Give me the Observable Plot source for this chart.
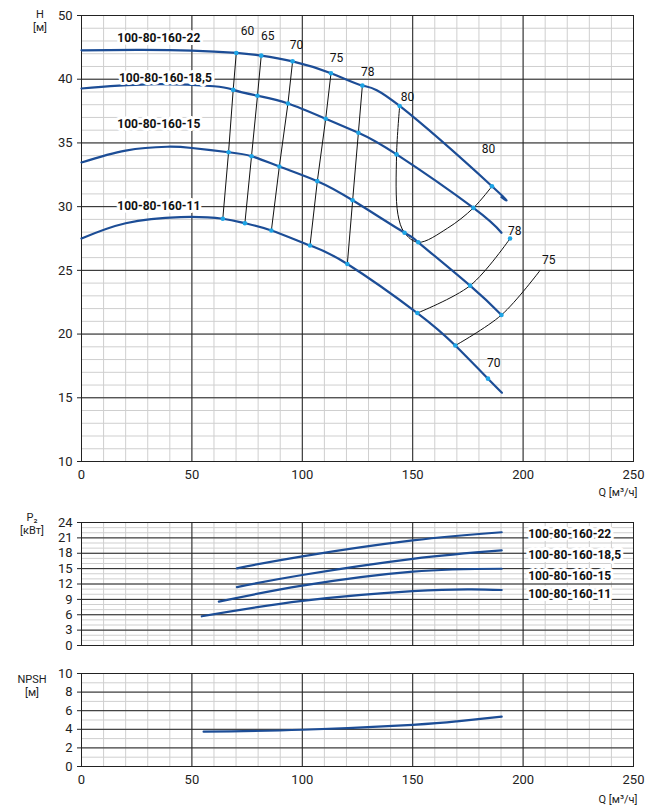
<!DOCTYPE html>
<html><head><meta charset="utf-8">
<script src="https://cdn.jsdelivr.net/npm/d3@7"></script>
<script src="https://cdn.jsdelivr.net/npm/@observablehq/plot@0.6"></script>
<style>
body{margin:0;background:#fff;font-family:Roboto,sans-serif;}
#wrap{position:relative;width:659px;height:811px;}
#wrap > svg, #wrap > figure{position:absolute;left:0;margin:0;}
.lab{position:absolute;font-size:11px;color:#222;text-align:center;line-height:13px;}
</style></head><body><div id="wrap"></div>
<script>
// ---- H(Q) curves ----
const models = ["100-80-160-22","100-80-160-18,5","100-80-160-15","100-80-160-11"];
const q22 = [0,25,50,70.1,81.4,95.6,113,127.2,144.1,185.9,190.2];
const h22 = [42.27,42.3,42.25,42.06,41.85,41.4,40.47,39.5,37.9,31.6,30.75];
const q185 = [0,30,60,68.7,79.7,93.5,110.6,125.4,142.7,177.5,190.2];
const h185 = [39.27,39.6,39.45,39.16,38.7,38.1,36.9,35.8,34.1,29.9,27.95];
const q15 = [0,20,38.8,50,66.6,77,89.6,106.8,122.8,146.3,152.5,176,190.2];
const h15 = [33.47,34.4,34.7,34.6,34.27,33.96,33.15,32.0,30.5,27.95,27.2,23.8,21.5];
const q11 = [0,20,44.9,64,74,86,103.5,120.4,152.1,169.3,184.1,190.4];
const h11 = [27.5,28.7,29.18,29.05,28.7,28.13,26.95,25.5,21.65,19.1,16.5,15.4];
// efficiency iso-lines (%), points on curves 22, 18.5, 15, 11
const effNames = [60,65,70,75,78];
const effQ = [[70.1,68.7,66.6,64],[81.4,79.7,77,74],[95.6,93.5,89.6,86],[113,110.6,106.8,103.5],[127.2,125.4,122.8,120.4]];
const effH = [[42.06,39.16,34.27,29.05],[41.85,38.7,33.96,28.7],[41.4,38.1,33.15,28.13],[40.47,36.9,32.0,26.95],[39.5,35.8,30.5,25.5]];
const eff80Q = [144.1,142.7,143.3,146.3,152.5,165.7,177.5,185.9];
const eff80H = [37.9,34.1,29.4,27.95,27.2,28.3,29.9,31.6];
const eff78Q = [152.1,176,194.1];
const eff78H = [21.65,23.8,27.5];
const eff75Q = [169.3,190.2,207.7];
const eff75H = [19.1,21.5,25.0];
const dotQ = [144.1,142.7,185.9,177.5,146.3,152.5,176,190.2,152.1,169.3,184.1,194.1];
const dotH = [37.9,34.1,31.6,29.9,27.95,27.2,23.8,21.5,21.65,19.1,16.5,27.5];
const effLabel = ["60","65","70","75","78","80","80","78","75","70"];
const effLabelQ = [75.2,84.3,97.4,115.5,129.6,147.7,184.3,196.2,211.6,186.7];
const effLabelH = [43.76,43.37,42.67,41.65,40.55,38.6,34.5,28.1,25.8,17.75];
const curveLabelQ = [35,38,35,35];
const curveLabelH = [43.2,40.1,36.5,30.0];
// ---- P2(Q) ----
const pQ22 = [70.4,100,150,190.3], pV22 = [15.05,17.4,20.5,22.1];
const pQ185 = [70.4,100,150,190.3], pV185 = [11.4,13.75,16.9,18.55];
const pQ15 = [62.2,100,150,190.3], pV15 = [8.56,11.67,14.4,14.98];
const pQ11 = [54.5,100,150,176.6,190.3], pV11 = [5.7,8.7,10.6,10.96,10.83];
const pLabelV = [21.8,17.7,13.6,10.1];
// ---- NPSH(Q) ----
const nQ = [55.3,100,150,170,190.3];
const nV = [3.74,3.95,4.48,4.85,5.37];
const xTicks = [0,50,100,150,200,250];

const BLUE = "#1c4d96", DOT = "#1ea5e6";
const zip = (a,b)=>a.map((v,i)=>({q:v,v:b[i]}));
const W = 659, ML = 81, MR = 26;
function grid(yMinor, yMajor){
  return [
    Plot.ruleX(d3.range(0,251,10),{stroke:"#cfcfcf",strokeWidth:1}),
    Plot.ruleY(yMinor,{stroke:"#cfcfcf",strokeWidth:1}),
    Plot.ruleX(xTicks,{stroke:"#222",strokeWidth:1}),
    Plot.ruleY(yMajor,{stroke:"#222",strokeWidth:1}),
    Plot.frame({stroke:"#222"})
  ];
}
const wrap = document.getElementById("wrap");
function place(svg, y){ svg.style.top = y+"px"; wrap.appendChild(svg); }

// TOP
const curves = [zip(q22,h22),zip(q185,h185),zip(q15,h15),zip(q11,h11)];
const dotsAll = [];
effQ.forEach((qs,i)=>qs.forEach((q,j)=>dotsAll.push({q,v:effH[i][j]})));
dotQ.forEach((q,i)=>dotsAll.push({q,v:dotH[i]}));
const plotH = Plot.plot({
  width:W, height:491, marginLeft:ML, marginRight:MR, marginTop:15, marginBottom:30,
  style:{fontFamily:"Roboto",fontSize:"13px",color:"#222"},
  x:{domain:[0,250], ticks:xTicks, label:null, tickSize:0, tickPadding:8},
  y:{domain:[10,45], ticks:d3.range(10,46,5), tickFormat:d=>d===45?"50":d, label:null, tickSize:4},
  marks:[
    ...grid(d3.range(10,46,1), d3.range(10,46,5)),
    ...effQ.map((qs,i)=>Plot.line(zip(qs,effH[i]),{x:"q",y:"v",stroke:"#111",strokeWidth:1})),
    Plot.line(zip(eff80Q,eff80H),{x:"q",y:"v",stroke:"#111",strokeWidth:1,curve:"catmull-rom"}),
    Plot.line(zip(eff78Q,eff78H),{x:"q",y:"v",stroke:"#111",strokeWidth:1,curve:"catmull-rom"}),
    Plot.line(zip(eff75Q,eff75H),{x:"q",y:"v",stroke:"#111",strokeWidth:1,curve:"catmull-rom"}),
    ...curves.map(c=>Plot.line(c,{x:"q",y:"v",stroke:BLUE,strokeWidth:2.2,curve:"natural"})),
    Plot.dot(dotsAll,{x:"q",y:"v",r:2.3,fill:DOT}),
    Plot.text(effLabel.map((t,i)=>({t,q:effLabelQ[i],v:effLabelH[i]})),{x:"q",y:"v",text:"t",fontSize:12,fill:"#111"}),
    Plot.text(models.map((t,i)=>({t,q:curveLabelQ[i],v:curveLabelH[i]})),{x:"q",y:"v",text:"t",fontSize:12,fontWeight:"bold",fill:"#111",stroke:"white",strokeWidth:6})
  ]
});
place(plotH,0);

// P2
const pCurves = [zip(pQ22,pV22),zip(pQ185,pV185),zip(pQ15,pV15),zip(pQ11,pV11)];
const plotP = Plot.plot({
  width:W, height:151, marginLeft:ML, marginRight:MR, marginTop:22, marginBottom:6,
  style:{fontFamily:"Roboto",fontSize:"13px",color:"#222"},
  x:{domain:[0,250], axis:null},
  y:{domain:[0,24], ticks:d3.range(0,25,3), label:null, tickSize:4},
  marks:[
    ...grid(d3.range(0,25,1), d3.range(0,25,3)),
    ...pCurves.map(c=>Plot.line(c,{x:"q",y:"v",stroke:BLUE,strokeWidth:2.2,curve:"natural"})),
    Plot.text(models.map((t,i)=>({t,v:pLabelV[i]})),{x:()=>202.3,y:"v",text:"t",textAnchor:"start",fontSize:12,fontWeight:"bold",fill:"#111",stroke:"white",strokeWidth:6})
  ]
});
place(plotP,500);

// NPSH
const plotN = Plot.plot({
  width:W, height:156, marginLeft:ML, marginRight:MR, marginTop:23, marginBottom:40,
  style:{fontFamily:"Roboto",fontSize:"13px",color:"#222"},
  x:{domain:[0,250], ticks:xTicks, label:null, tickSize:0, tickPadding:8},
  y:{domain:[0,10], ticks:d3.range(0,11,2), label:null, tickSize:4},
  marks:[
    ...grid(d3.range(0,11,1), d3.range(0,11,2)),
    Plot.line(zip(nQ,nV),{x:"q",y:"v",stroke:BLUE,strokeWidth:2.2,curve:"natural"})
  ]
});
place(plotN,650);

const labs = [["H<br>[м]",30,8,20],["Q [м³/ч]",596,486,44],["P₂<br>[кВт]",12,511,40],["NPSH<br>[м]",12,673,40],["Q [м³/ч]",596,793,44]];
labs.forEach(([h,x,y,w])=>{const d=document.createElement("div");d.className="lab";d.innerHTML=h;d.style.left=x+"px";d.style.top=y+"px";d.style.width=w+"px";wrap.appendChild(d);});
</script></body></html>
